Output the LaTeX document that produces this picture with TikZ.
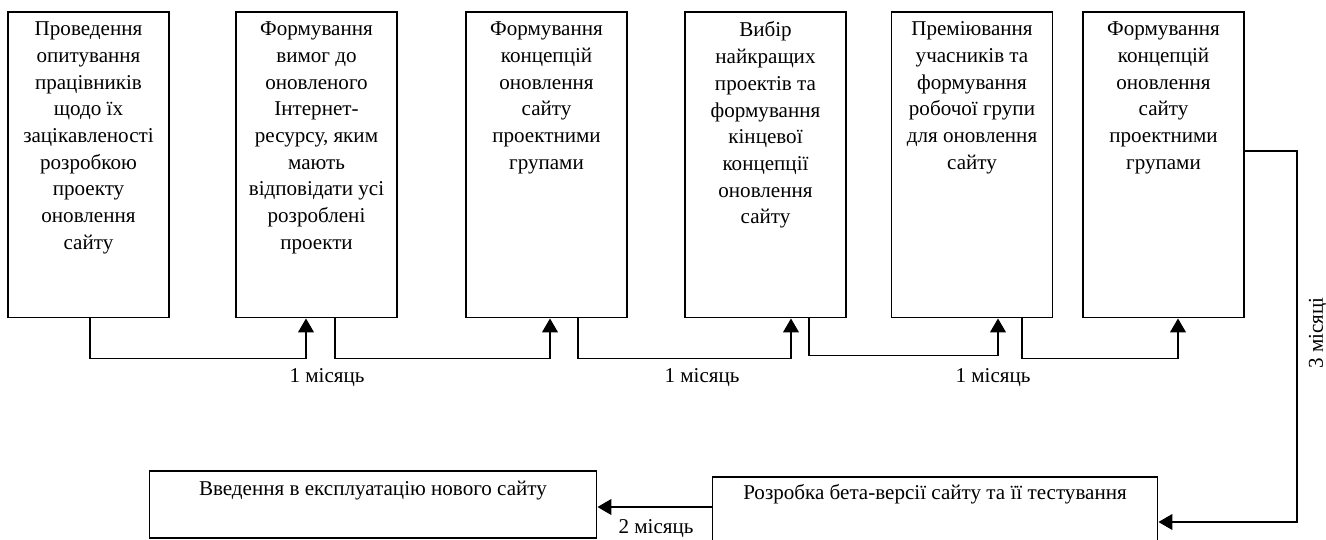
\documentclass[tikz,border=0pt]{standalone}
\usepackage{fontspec}
\setmainfont{Liberation Serif}
\usetikzlibrary{arrows.meta}

\begin{document}
\begin{tikzpicture}[x=0.02cm, y=-0.02cm, line width=0.6pt,
  font=\fontsize{12}{15.2}\selectfont,
  stage/.style={draw, minimum width=3.22cm, minimum height=6.12cm, inner sep=0pt},
  wide/.style={draw, minimum width=8.96cm, minimum height=1.34cm, inner sep=0pt},
  inside/.style={anchor=north, align=center, inner sep=3pt, yshift=-2.6pt},
  flow/.style={-{Triangle[length=0.28cm,width=0.32cm]}}]
\useasboundingbox (0,0) rectangle (1326,540);

\draw (88.5,165)  node (b1) [stage, label={[inside]north:{Проведення\\опитування\\працівників\\щодо їх\\зацікавленості\\розробкою\\проекту\\оновлення\\сайту}}] {};
\draw (316.5,165) node (b2) [stage, label={[inside]north:{Формування\\вимог до\\оновленого\\Інтернет-\\ресурсу, яким\\мають\\відповідати усі\\розроблені\\проекти}}] {};
\draw (546.5,165) node (b3) [stage, label={[inside]north:{Формування\\концепцій\\оновлення\\сайту\\проектними\\групами}}] {};
\draw (765.5,165) node (b4) [stage, label={[inside]north:{Вибір\\найкращих\\проектів та\\формування\\кінцевої\\концепції\\оновлення\\сайту}}] {};
\draw (972,165)   node (b5) [stage, label={[inside]north:{Преміювання\\учасників та\\формування\\робочої групи\\для оновлення\\сайту}}] {};
\draw (1163.5,165) node (b6) [stage, label={[inside]north:{Формування\\концепцій\\оновлення\\сайту\\проектними\\групами}}] {};

\draw (373,504.5) node (b7) [wide, label={[inside]north:Введення в експлуатацію нового сайту}] {};
\draw (935,512)   node (b8) [wide, minimum width=8.92cm, minimum height=1.4cm, label={[inside, yshift=1.5pt]north:Розробка бета-версії сайту та її тестування}] {};

\draw[flow] ([shift={(1.5,0)}]b1.south) -- ++(0,40) -| ([shift={(-10.5,0)}]b2.south);
\draw[flow] ([shift={(18.5,0)}]b2.south) -- ++(0,40) -| ([shift={(3.5,0)}]b3.south);
\draw[flow] ([shift={(31.5,0)}]b3.south) -- ++(0,40) -| ([shift={(25.5,0)}]b4.south);
\draw[flow] ([shift={(43.5,0)}]b4.south) -- ++(0,37) -| ([shift={(26,0)}]b5.south);
\draw[flow] ([shift={(50,0)}]b5.south) -- ++(0,40) -| ([shift={(14.5,0)}]b6.south);

\coordinate (bend) at (1297,522);
\draw[flow] ([shift={(0,-14)}]b6.east) -| (bend) -- (bend -| b8.east);
\coordinate (c8) at ([shift={(0,-5)}]b8.west);
\draw[flow] (c8) -- (c8 -| b7.east);

\draw (327,378)  node (m1) {1 місяць};
\draw (702,378)  node (m2) {1 місяць};
\draw (993,378)  node (m3) {1 місяць};
\draw (656,529)  node (m4) {2 місяць};
\draw (1318,333) node (m5) [rotate=90] {3 місяці};
\end{tikzpicture}
\end{document}
